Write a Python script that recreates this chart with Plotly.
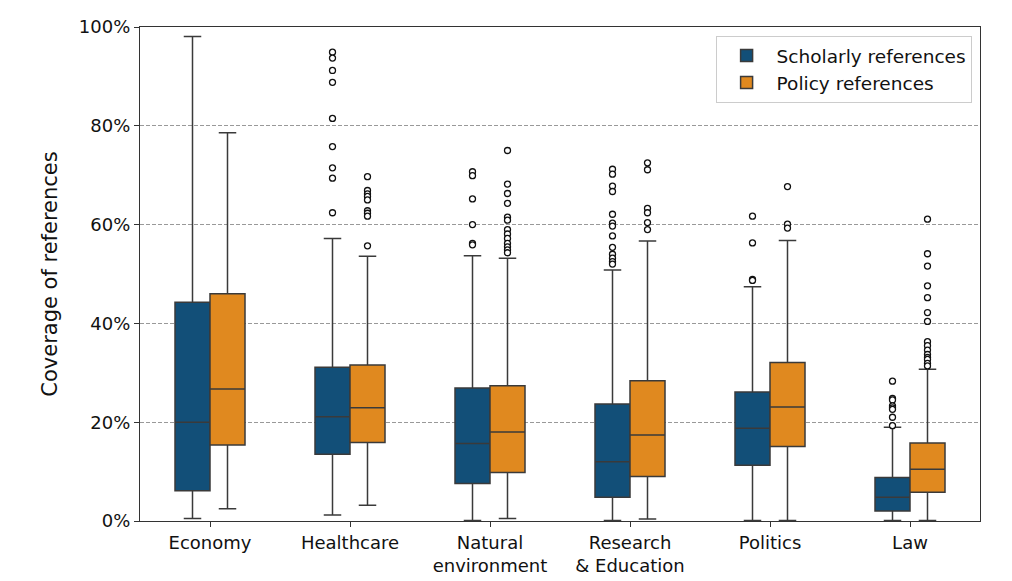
import plotly.graph_objects as go

categories = ["Economy", "Healthcare", "Natural<br>environment", "Research<br>& Education", "Politics", "Law"]

# Scholarly references (percent)
sch_low = [0.5, 1.2, 0.1, 0.1, 0.1, 0.1]
sch_q1 = [6.1, 13.5, 7.6, 4.8, 11.3, 2.0]
sch_med = [20.0, 21.1, 15.7, 12.0, 18.8, 4.8]
sch_q3 = [44.3, 31.1, 26.9, 23.7, 26.1, 8.8]
sch_high = [98.1, 57.2, 53.7, 50.8, 47.4, 19.0]
sch_out = [
    [],
    [94.9, 93.7, 91.2, 88.8, 81.5, 75.8, 71.5, 69.4, 62.4],
    [70.7, 69.9, 65.2, 60.0, 56.2, 55.9],
    [71.2, 70.2, 67.8, 66.7, 62.1, 60.3, 59.7, 57.7, 55.4, 54.0, 53.2, 52.5, 52.0],
    [61.7, 56.3, 48.9, 48.7],
    [28.3, 24.8, 24.5, 23.3, 22.9, 22.6, 21.0, 19.3],
]

# Policy references (percent)
pol_low = [2.5, 3.2, 0.5, 0.4, 0.1, 0.1]
pol_q1 = [15.4, 15.9, 9.8, 9.0, 15.1, 5.8]
pol_med = [26.7, 22.9, 18.0, 17.4, 23.1, 10.5]
pol_q3 = [46.0, 31.6, 27.4, 28.4, 32.1, 15.8]
pol_high = [78.6, 53.6, 53.2, 56.7, 56.8, 30.7]
pol_out = [
    [],
    [69.7, 66.9, 66.2, 65.7, 65.0, 62.8, 62.3, 61.7, 55.7],
    [75.0, 68.2, 66.3, 64.3, 61.5, 60.9, 59.0, 58.1, 57.2, 56.2, 55.5, 54.9, 54.3],
    [72.5, 71.1, 63.3, 62.4, 60.4, 59.0],
    [67.7, 60.1, 59.3],
    [61.1, 54.1, 51.6, 47.6, 45.2, 42.2, 40.4, 36.3, 35.5, 34.6, 33.7, 33.1, 32.7, 31.9, 31.4],
]

y_ticks = [0, 20, 40, 60, 80, 100]

BLUE = "#124F78"
ORANGE = "#E0891F"
EDGE = "#3a3a3a"
OFF = 0.125
BW = 0.25

fig = go.Figure()
idx = list(range(len(categories)))

series = [
    ("Scholarly references", BLUE, -OFF, sch_low, sch_q1, sch_med, sch_q3, sch_high, sch_out),
    ("Policy references", ORANGE, OFF, pol_low, pol_q1, pol_med, pol_q3, pol_high, pol_out),
]

for name, col, off, lo, q1, med, q3, hi, outs in series:
    fig.add_trace(go.Box(
        name=name,
        x=[i + off for i in idx],
        lowerfence=[v / 100 for v in lo],
        q1=[v / 100 for v in q1],
        median=[v / 100 for v in med],
        q3=[v / 100 for v in q3],
        upperfence=[v / 100 for v in hi],
        width=BW,
        whiskerwidth=0.5,
        fillcolor=col,
        line=dict(color=EDGE, width=1.5),
        boxpoints=False,
        hoverinfo="skip",
    ))
    ox, oy = [], []
    for i, vals in zip(idx, outs):
        for v in vals:
            ox.append(i + off)
            oy.append(v / 100)
    fig.add_trace(go.Scatter(
        x=ox, y=oy, mode="markers", showlegend=False,
        marker=dict(symbol="circle", size=6, color="white",
                    line=dict(color="#111111", width=1.3)),
        hoverinfo="skip",
    ))

fig.update_layout(
    width=1004, height=573,
    margin=dict(l=132, r=32, t=19, b=60),
    paper_bgcolor="white", plot_bgcolor="white",
    font=dict(family="DejaVu Sans", size=18, color="#111111"),
    boxmode="overlay",
    legend=dict(
        x=0.99, y=0.982, xanchor="right", yanchor="top",
        bordercolor="#cccccc", borderwidth=1, bgcolor="white",
        font=dict(size=18.5), tracegroupgap=0, itemwidth=50,
    ),
)
fig.update_xaxes(
    range=[-0.5, 5.5], tickvals=idx, ticktext=categories,
    showgrid=False, zeroline=False, automargin=False,
    showline=True, linecolor="#333333", linewidth=1.2, mirror=True,
    ticks="outside", ticklen=5, tickcolor="#333333",
    tickfont=dict(size=18),
)
fig.update_yaxes(
    range=[0, 1], tickvals=[t / 100 for t in y_ticks],
    ticktext=[f"{t}%" for t in y_ticks],
    showgrid=True, gridcolor="#999999", griddash="4px,2px", gridwidth=1,
    zeroline=False, automargin=False,
    showline=True, linecolor="#333333", linewidth=1.2, mirror=True,
    ticks="outside", ticklen=5, tickcolor="#333333",
    tickfont=dict(size=18),
    title=dict(text="Coverage of references", font=dict(size=21)),
)

fig.write_html("out.html")
